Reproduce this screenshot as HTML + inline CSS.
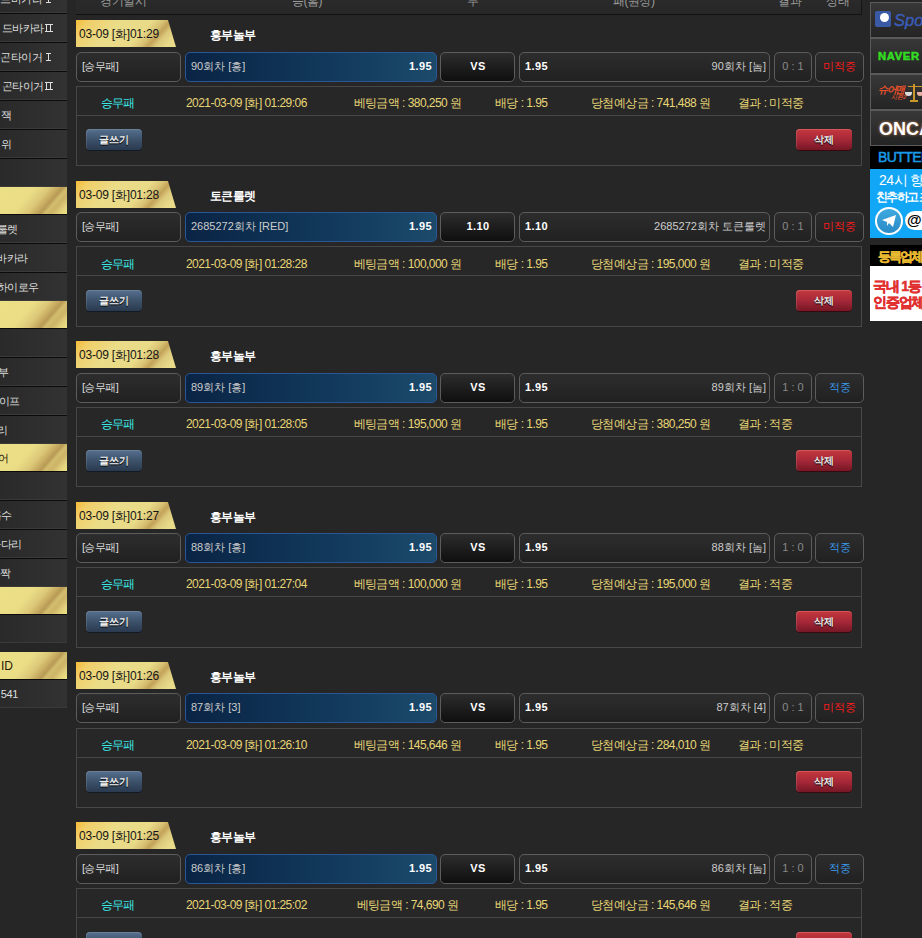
<!DOCTYPE html><html><head><meta charset="utf-8"><style>
*{margin:0;padding:0;box-sizing:border-box}
html,body{width:922px;height:938px;overflow:hidden;background:#262626;font-family:"Liberation Sans",sans-serif;font-size:11px;color:#ddd}
.a{position:absolute}
.si{position:absolute;left:0;width:67px;height:28px;background:linear-gradient(90deg,#2a2a2a,#323232);border-bottom:1px solid #3a3a3a}
.sb{position:absolute;left:0;width:67px;height:1px;background:#0b0b0b}
.sg{position:absolute;left:0;width:67px;height:27px;background:linear-gradient(131deg,#ece085 0%,#eadd86 40%,#dcc878 55%,#c9ad62 64%,#b89a55 70%,#d2bd6e 75%,#cdb468 82%,#e4d47e 92%,#ece183 100%)}
.st{position:absolute;white-space:nowrap;font-size:11px;letter-spacing:-0.4px;color:#ddd;line-height:14px}
.sg .st{color:#2a2008}
.r1,.r2{display:inline-block;position:relative;height:8px;border-top:1px solid #ddd;border-bottom:1px solid #ddd;vertical-align:0px;margin-left:1px}
.r1{width:5px}.r2{width:8px}
.r1:before{content:"";position:absolute;left:2px;top:0;width:1px;height:6px;background:#ddd}
.r2:before{content:"";position:absolute;left:1px;top:0;width:1px;height:6px;background:#ddd}
.r2:after{content:"";position:absolute;left:5px;top:0;width:1px;height:6px;background:#ddd}
.hdr{position:absolute;left:76px;top:-20px;width:786px;height:35px;background:linear-gradient(#2e2e2e,#272727);border-bottom:1px solid #111;border-right:1px solid #151515}
.ht{position:absolute;top:-6px;font-size:12px;letter-spacing:-0.5px;color:#9a9a9a;white-space:nowrap;line-height:14px}
.tab{position:absolute;left:76px;width:100px;height:27px;clip-path:polygon(0 0,92px 0,100px 27px,0 27px);
 background:linear-gradient(132deg,#f6bb36 0%,#f0cf6a 12%,#ebdc88 35%,#e9da88 62%,#d8c273 71%,#c3a259 77%,#dcc97c 83%,#e9da8a 92%,#ebdd8c 100%)}
.tab span{position:absolute;left:3px;top:7px;font-size:12px;color:#141414;white-space:nowrap;line-height:14px;letter-spacing:-0.2px}
.ttl{position:absolute;left:210px;font-size:12px;letter-spacing:-0.7px;font-weight:bold;color:#fff;white-space:nowrap;line-height:14px}
.bx{position:absolute;height:30px;border:1px solid #5c5c5c;border-radius:5px;background:linear-gradient(#2d2d2d,#212121)}
.bv{background:linear-gradient(#2d2d2d,#1f1f1f 45%,#0f0f0f)}
.bl{position:absolute;height:30px;border:1px solid #2a5696;border-radius:5px;background:linear-gradient(90deg,#0a2445,#123a5c 60%,#1c4a6b)}
.tx{position:absolute;top:6px;white-space:nowrap;line-height:14px}
.b{font-weight:bold;color:#fff;letter-spacing:0.4px}
.dt{position:absolute;left:76px;width:786px;border:1px solid #474747;background:#272727}
.dsep{position:absolute;left:0;right:0;top:28px;height:1px;background:#474747}
.dx{position:absolute;top:9px;white-space:nowrap;color:#e8d676;line-height:14px;font-size:12px;letter-spacing:-0.55px}
.btn{position:absolute;top:42px;width:56px;height:21px;border-radius:4px;font-size:10px;font-weight:bold;color:#eee;text-align:center;line-height:21px;text-shadow:0 1px 1px #000}
.bw{left:9px;background:linear-gradient(#56708f,#3d526b 50%,#2a3a4f);box-shadow:inset 1px 0 rgba(255,255,255,.1),inset 0 1px rgba(255,255,255,.12),0 1px 0 #111a25}
.bd{right:9px;background:linear-gradient(#c4383e,#a62838 50%,#771725);box-shadow:inset 1px 0 rgba(255,255,255,.12),inset 0 1px rgba(255,140,140,.35),0 1px 0 #36080f}
</style></head><body>
<div class="si" style="top:-15px"><span class="st" style="right:16px;top:7px">스피드바카라 <i class="r1"></i></span></div>
<div class="sb" style="top:13px"></div>
<div class="si" style="top:14px"><span class="st" style="right:14px;top:7px">드바카라<i class="r2"></i></span></div>
<div class="sb" style="top:42px"></div>
<div class="si" style="top:43px"><span class="st" style="right:16px;top:7px">곤타이거 <i class="r1"></i></span></div>
<div class="sb" style="top:71px"></div>
<div class="si" style="top:72px"><span class="st" style="right:14px;top:7px">곤타이거<i class="r2"></i></span></div>
<div class="sb" style="top:100px"></div>
<div class="si" style="top:101px"><span class="st" style="right:55px;top:7px">잭</span></div>
<div class="sb" style="top:129px"></div>
<div class="si" style="top:130px"><span class="st" style="right:55px;top:7px">위</span></div>
<div class="sb" style="top:158px"></div>
<div class="si" style="top:159px"></div>
<div class="sg" style="top:187px"></div>
<div class="sb" style="top:214px"></div>
<div class="si" style="top:215px"><span class="st" style="right:49px;top:7px">룰렛</span></div>
<div class="sb" style="top:243px"></div>
<div class="si" style="top:244px"><span class="st" style="right:39px;top:7px">바카라</span></div>
<div class="sb" style="top:272px"></div>
<div class="si" style="top:273px"><span class="st" style="right:28px;top:7px">하이로우</span></div>
<div class="sg" style="top:301px"></div>
<div class="sb" style="top:328px"></div>
<div class="si" style="top:329px"></div>
<div class="sb" style="top:357px"></div>
<div class="si" style="top:358px"><span class="st" style="right:58px;top:7px">승부</span></div>
<div class="sb" style="top:386px"></div>
<div class="si" style="top:387px"><span class="st" style="right:47px;top:7px">스와이프</span></div>
<div class="sb" style="top:415px"></div>
<div class="si" style="top:416px"><span class="st" style="right:59px;top:7px">사다리</span></div>
<div class="sg" style="top:444px"><span class="st" style="right:58px;top:7px">어</span></div>
<div class="sb" style="top:471px"></div>
<div class="si" style="top:472px"></div>
<div class="sb" style="top:500px"></div>
<div class="si" style="top:501px"><span class="st" style="right:55px;top:7px">홀수</span></div>
<div class="sb" style="top:529px"></div>
<div class="si" style="top:530px"><span class="st" style="right:45px;top:7px">사다리</span></div>
<div class="sb" style="top:558px"></div>
<div class="si" style="top:559px"><span class="st" style="right:56px;top:7px">홀짝</span></div>
<div class="sg" style="top:587px"></div>
<div class="sb" style="top:614px"></div>
<div class="si" style="top:615px"></div>
<div class="sg" style="top:652px"><span class="st" style="right:54px;top:7px"><span style="font-size:12px;letter-spacing:0">ID</span></span></div>
<div class="sb" style="top:679px"></div>
<div class="si" style="top:680px"><span class="st" style="right:49px;top:7px">541</span></div>
<div class="hdr"><span class="ht" style="left:24px;top:14px">경기일시</span></div>
<span class="ht a" style="left:292px">승(홈)</span>
<span class="ht a" style="left:467px">무</span>
<span class="ht a" style="left:613px">패(원정)</span>
<span class="ht a" style="left:778px">결과</span>
<span class="ht a" style="left:826px">상태</span>
<div class="tab" style="top:20px"><span>03-09 [화]01:29</span></div>
<span class="ttl" style="top:28px">흥부놀부</span>
<div class="bx" style="left:76px;top:52px;width:105px"><span class="tx" style="left:5px;letter-spacing:-0.6px">[승무패]</span></div>
<div class="bl" style="left:185px;top:52px;width:252px"><span class="tx" style="left:5px;color:#ccc">90회차 [흥]</span><span class="tx b" style="right:4px">1.95</span></div>
<div class="bx bv" style="left:440px;top:52px;width:75px;text-align:center"><span class="tx b" style="left:1px;right:0">VS</span></div>
<div class="bx" style="left:519px;top:52px;width:251px"><span class="tx b" style="left:5px">1.95</span><span class="tx" style="right:3px;color:#ccc">90회차 [놈]</span></div>
<div class="bx" style="left:774px;top:52px;width:38px;text-align:center"><span class="tx" style="left:0;right:0;color:#8a8a8a">0 : 1</span></div>
<div class="bx" style="left:815px;top:52px;width:49px;text-align:center"><span class="tx" style="left:0;right:0;color:#ff1a1a">미적중</span></div>
<div class="dt" style="top:86px;height:80px"><div class="dsep"></div><div class="a" style="left:0;top:0px;width:100%"><span class="dx" style="left:24px;color:#3ce6e6;letter-spacing:-1.1px">승무패</span><span class="dx" style="left:109px">2021-03-09 [화] 01:29:06</span><span class="dx" style="left:230.5px;width:200px;text-align:center">베팅금액 : 380,250 원</span><span class="dx" style="left:418px">배당 : 1.95</span><span class="dx" style="left:514px">당첨예상금 : 741,488 원</span><span class="dx" style="left:661px">결과 : 미적중</span></div><div class="a" style="left:0;top:0px;width:100%"><div class="btn bw">글쓰기</div><div class="btn bd">삭제</div></div></div>
<div class="tab" style="top:181px"><span>03-09 [화]01:28</span></div>
<span class="ttl" style="top:189px">토큰룰렛</span>
<div class="bx" style="left:76px;top:212px;width:105px"><span class="tx" style="left:5px;letter-spacing:-0.6px">[승무패]</span></div>
<div class="bl" style="left:185px;top:212px;width:252px"><span class="tx" style="left:5px;color:#ccc">2685272회차 [RED]</span><span class="tx b" style="right:4px">1.95</span></div>
<div class="bx bv" style="left:440px;top:212px;width:75px;text-align:center"><span class="tx b" style="left:1px;right:0">1.10</span></div>
<div class="bx" style="left:519px;top:212px;width:251px"><span class="tx b" style="left:5px">1.10</span><span class="tx" style="right:3px;color:#ccc">2685272회차 토큰룰렛</span></div>
<div class="bx" style="left:774px;top:212px;width:38px;text-align:center"><span class="tx" style="left:0;right:0;color:#8a8a8a">0 : 1</span></div>
<div class="bx" style="left:815px;top:212px;width:49px;text-align:center"><span class="tx" style="left:0;right:0;color:#ff1a1a">미적중</span></div>
<div class="dt" style="top:246px;height:81px"><div class="dsep"></div><div class="a" style="left:0;top:1px;width:100%"><span class="dx" style="left:24px;color:#3ce6e6;letter-spacing:-1.1px">승무패</span><span class="dx" style="left:109px">2021-03-09 [화] 01:28:28</span><span class="dx" style="left:230.5px;width:200px;text-align:center">베팅금액 : 100,000 원</span><span class="dx" style="left:418px">배당 : 1.95</span><span class="dx" style="left:514px">당첨예상금 : 195,000 원</span><span class="dx" style="left:661px">결과 : 미적중</span></div><div class="a" style="left:0;top:1px;width:100%"><div class="btn bw">글쓰기</div><div class="btn bd">삭제</div></div></div>
<div class="tab" style="top:341px"><span>03-09 [화]01:28</span></div>
<span class="ttl" style="top:349px">흥부놀부</span>
<div class="bx" style="left:76px;top:373px;width:105px"><span class="tx" style="left:5px;letter-spacing:-0.6px">[승무패]</span></div>
<div class="bl" style="left:185px;top:373px;width:252px"><span class="tx" style="left:5px;color:#ccc">89회차 [흥]</span><span class="tx b" style="right:4px">1.95</span></div>
<div class="bx bv" style="left:440px;top:373px;width:75px;text-align:center"><span class="tx b" style="left:1px;right:0">VS</span></div>
<div class="bx" style="left:519px;top:373px;width:251px"><span class="tx b" style="left:5px">1.95</span><span class="tx" style="right:3px;color:#ccc">89회차 [놈]</span></div>
<div class="bx" style="left:774px;top:373px;width:38px;text-align:center"><span class="tx" style="left:0;right:0;color:#8a8a8a">1 : 0</span></div>
<div class="bx" style="left:815px;top:373px;width:49px;text-align:center"><span class="tx" style="left:0;right:0;color:#3a9cee">적중</span></div>
<div class="dt" style="top:407px;height:80px"><div class="dsep"></div><div class="a" style="left:0;top:0px;width:100%"><span class="dx" style="left:24px;color:#3ce6e6;letter-spacing:-1.1px">승무패</span><span class="dx" style="left:109px">2021-03-09 [화] 01:28:05</span><span class="dx" style="left:230.5px;width:200px;text-align:center">베팅금액 : 195,000 원</span><span class="dx" style="left:418px">배당 : 1.95</span><span class="dx" style="left:514px">당첨예상금 : 380,250 원</span><span class="dx" style="left:661px">결과 : 적중</span></div><div class="a" style="left:0;top:0px;width:100%"><div class="btn bw">글쓰기</div><div class="btn bd">삭제</div></div></div>
<div class="tab" style="top:502px"><span>03-09 [화]01:27</span></div>
<span class="ttl" style="top:510px">흥부놀부</span>
<div class="bx" style="left:76px;top:533px;width:105px"><span class="tx" style="left:5px;letter-spacing:-0.6px">[승무패]</span></div>
<div class="bl" style="left:185px;top:533px;width:252px"><span class="tx" style="left:5px;color:#ccc">88회차 [흥]</span><span class="tx b" style="right:4px">1.95</span></div>
<div class="bx bv" style="left:440px;top:533px;width:75px;text-align:center"><span class="tx b" style="left:1px;right:0">VS</span></div>
<div class="bx" style="left:519px;top:533px;width:251px"><span class="tx b" style="left:5px">1.95</span><span class="tx" style="right:3px;color:#ccc">88회차 [놈]</span></div>
<div class="bx" style="left:774px;top:533px;width:38px;text-align:center"><span class="tx" style="left:0;right:0;color:#8a8a8a">1 : 0</span></div>
<div class="bx" style="left:815px;top:533px;width:49px;text-align:center"><span class="tx" style="left:0;right:0;color:#3a9cee">적중</span></div>
<div class="dt" style="top:567px;height:81px"><div class="dsep"></div><div class="a" style="left:0;top:0px;width:100%"><span class="dx" style="left:24px;color:#3ce6e6;letter-spacing:-1.1px">승무패</span><span class="dx" style="left:109px">2021-03-09 [화] 01:27:04</span><span class="dx" style="left:230.5px;width:200px;text-align:center">베팅금액 : 100,000 원</span><span class="dx" style="left:418px">배당 : 1.95</span><span class="dx" style="left:514px">당첨예상금 : 195,000 원</span><span class="dx" style="left:661px">결과 : 적중</span></div><div class="a" style="left:0;top:1px;width:100%"><div class="btn bw">글쓰기</div><div class="btn bd">삭제</div></div></div>
<div class="tab" style="top:662px"><span>03-09 [화]01:26</span></div>
<span class="ttl" style="top:670px">흥부놀부</span>
<div class="bx" style="left:76px;top:693px;width:105px"><span class="tx" style="left:5px;letter-spacing:-0.6px">[승무패]</span></div>
<div class="bl" style="left:185px;top:693px;width:252px"><span class="tx" style="left:5px;color:#ccc">87회차 [3]</span><span class="tx b" style="right:4px">1.95</span></div>
<div class="bx bv" style="left:440px;top:693px;width:75px;text-align:center"><span class="tx b" style="left:1px;right:0">VS</span></div>
<div class="bx" style="left:519px;top:693px;width:251px"><span class="tx b" style="left:5px">1.95</span><span class="tx" style="right:3px;color:#ccc">87회차 [4]</span></div>
<div class="bx" style="left:774px;top:693px;width:38px;text-align:center"><span class="tx" style="left:0;right:0;color:#8a8a8a">0 : 1</span></div>
<div class="bx" style="left:815px;top:693px;width:49px;text-align:center"><span class="tx" style="left:0;right:0;color:#ff1a1a">미적중</span></div>
<div class="dt" style="top:728px;height:80px"><div class="dsep"></div><div class="a" style="left:0;top:0px;width:100%"><span class="dx" style="left:24px;color:#3ce6e6;letter-spacing:-1.1px">승무패</span><span class="dx" style="left:109px">2021-03-09 [화] 01:26:10</span><span class="dx" style="left:230.5px;width:200px;text-align:center">베팅금액 : 145,646 원</span><span class="dx" style="left:418px">배당 : 1.95</span><span class="dx" style="left:514px">당첨예상금 : 284,010 원</span><span class="dx" style="left:661px">결과 : 미적중</span></div><div class="a" style="left:0;top:0px;width:100%"><div class="btn bw">글쓰기</div><div class="btn bd">삭제</div></div></div>
<div class="tab" style="top:822px"><span>03-09 [화]01:25</span></div>
<span class="ttl" style="top:830px">흥부놀부</span>
<div class="bx" style="left:76px;top:854px;width:105px"><span class="tx" style="left:5px;letter-spacing:-0.6px">[승무패]</span></div>
<div class="bl" style="left:185px;top:854px;width:252px"><span class="tx" style="left:5px;color:#ccc">86회차 [흥]</span><span class="tx b" style="right:4px">1.95</span></div>
<div class="bx bv" style="left:440px;top:854px;width:75px;text-align:center"><span class="tx b" style="left:1px;right:0">VS</span></div>
<div class="bx" style="left:519px;top:854px;width:251px"><span class="tx b" style="left:5px">1.95</span><span class="tx" style="right:3px;color:#ccc">86회차 [놈]</span></div>
<div class="bx" style="left:774px;top:854px;width:38px;text-align:center"><span class="tx" style="left:0;right:0;color:#8a8a8a">1 : 0</span></div>
<div class="bx" style="left:815px;top:854px;width:49px;text-align:center"><span class="tx" style="left:0;right:0;color:#3a9cee">적중</span></div>
<div class="dt" style="top:888px;height:80px"><div class="dsep"></div><div class="a" style="left:0;top:0px;width:100%"><span class="dx" style="left:24px;color:#3ce6e6;letter-spacing:-1.1px">승무패</span><span class="dx" style="left:109px">2021-03-09 [화] 01:25:02</span><span class="dx" style="left:230.5px;width:200px;text-align:center">베팅금액 : 74,690 원</span><span class="dx" style="left:418px">배당 : 1.95</span><span class="dx" style="left:514px">당첨예상금 : 145,646 원</span><span class="dx" style="left:661px">결과 : 적중</span></div><div class="a" style="left:0;top:1px;width:100%"><div class="btn bw">글쓰기</div><div class="btn bd">삭제</div></div></div>

<div class="a" style="left:870px;top:2px;width:52px;height:36px;border:1px solid #5a5a5a;border-right:none;background:linear-gradient(#383838,#242424)">
 <div class="a" style="left:4px;top:8px;width:16px;height:16px;border-radius:2px;background:#3a5aa6"><div class="a" style="left:5px;top:2px;width:9px;height:9px;border-radius:50%;background:#fff"></div></div>
 <span class="a" style="left:23px;top:8px;font-size:16.5px;font-style:italic;color:#3a5cb8;line-height:18px;-webkit-text-stroke:0.4px #3a5cb8">Spo</span>
</div>
<div class="a" style="left:870px;top:38px;width:52px;height:36px;border:1px solid #5a5a5a;border-right:none;background:linear-gradient(#383838,#242424)">
 <span class="a" style="left:7px;top:12px;font-size:10px;font-weight:bold;color:#33dd22;letter-spacing:0.6px;line-height:11px;-webkit-text-stroke:0.5px #33dd22;transform:scaleX(1.12);transform-origin:0 0">NAVER</span>
</div>
<div class="a" style="left:870px;top:74px;width:52px;height:36px;border:1px solid #5a5a5a;border-right:none;background:linear-gradient(#383838,#242424)">
 <span class="a" style="left:7px;top:9px;font-size:10px;font-weight:bold;font-style:italic;color:#e8502a;line-height:11px;letter-spacing:-1.5px;white-space:nowrap">슈어맨</span>
 <span class="a" style="left:20px;top:19px;font-size:6px;font-weight:bold;font-style:italic;color:#d04a2a;line-height:7px;white-space:nowrap">시즌2</span>
 <div class="a" style="left:42px;top:9px;width:2px;height:17px;background:#c8962a"></div>
 <div class="a" style="left:39px;top:25px;width:8px;height:2px;background:#c8962a"></div>
 <div class="a" style="left:37px;top:11px;width:14px;height:1px;background:#c8962a"></div>
 <div class="a" style="left:34px;top:17px;width:7px;height:4px;border-radius:0 0 4px 4px;background:#ddd"></div>
 <div class="a" style="left:46px;top:17px;width:6px;height:4px;border-radius:0 0 4px 4px;background:#e8b0a0"></div>
</div>
<div class="a" style="left:870px;top:110px;width:52px;height:36px;border:1px solid #5a5a5a;border-right:none;background:linear-gradient(#383838,#242424)">
 <span class="a" style="left:8px;top:8px;font-size:18px;font-weight:bold;color:#fff;line-height:20px;text-shadow:0 0 3px #d08050">ONCA</span>
</div>
<div class="a" style="left:870px;top:146px;width:52px;height:23px;background:#000">
 <span class="a" style="left:8px;top:3px;font-size:14px;color:#1a9ae8;line-height:16px;letter-spacing:-0.6px;-webkit-text-stroke:0.5px #1a9ae8">BUTTER</span>
</div>
<div class="a" style="left:870px;top:169px;width:52px;height:69px;background:#12a6f6">
 <span class="a" style="left:9px;top:3px;font-size:14px;color:#fff;line-height:16px;white-space:nowrap;letter-spacing:-0.5px">24시 항</span>
 <span class="a" style="left:6px;top:21px;font-size:12px;font-weight:bold;color:#fff;line-height:14px;white-space:nowrap;letter-spacing:-1.6px">친추하고 조</span>
 <div class="a" style="left:5px;top:38px;width:28px;height:28px;border-radius:50%;background:#fff"></div>
 <div class="a" style="left:7px;top:40px;width:24px;height:24px;border-radius:50%;background:linear-gradient(#3eaae0,#2a8ac6)"></div>
 <svg class="a" style="left:12px;top:46px" width="14" height="12" viewBox="0 0 14 12"><path d="M0 5 L14 0 L11 12 L7 8 L5 11 L5 7 Z" fill="#fff"/></svg>
 <div class="a" style="left:35px;top:42px;width:19px;height:19px;border-radius:50%;background:#fff"></div>
 <div class="a" style="left:45px;top:42px;width:10px;height:19px;background:#fff"></div>
 <span class="a" style="left:37px;top:43px;font-size:15px;font-weight:bold;color:#000;line-height:16px">@</span>
</div>
<div class="a" style="left:870px;top:245px;width:52px;height:21px;background:#000">
 <span class="a" style="left:8px;top:4px;font-size:13px;font-weight:bold;color:#e8b830;line-height:15px;white-space:nowrap;letter-spacing:-2px;-webkit-text-stroke:0.4px #e8b830">등록업체</span>
</div>
<div class="a" style="left:870px;top:266px;width:52px;height:55px;background:#fff">
 <span class="a" style="left:3px;top:12px;font-size:14px;font-weight:bold;color:#e03030;line-height:17px;white-space:nowrap;letter-spacing:-1.2px;-webkit-text-stroke:0.5px #e03030">국내 1등</span>
 <span class="a" style="left:3px;top:28px;font-size:14px;font-weight:bold;color:#e03030;line-height:17px;white-space:nowrap;letter-spacing:-1.2px;-webkit-text-stroke:0.5px #e03030">인증업체</span>
</div>

</body></html>
